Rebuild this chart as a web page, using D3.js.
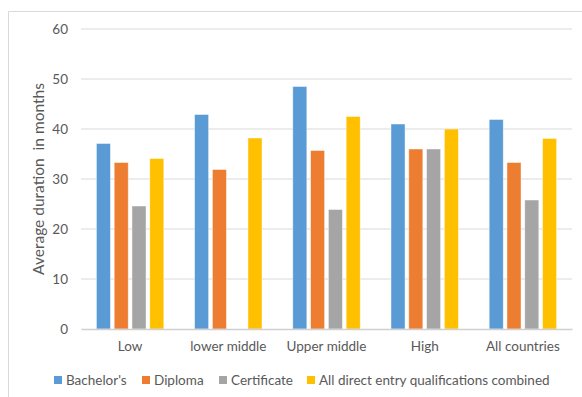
<!DOCTYPE html>
<html>
<head>
<meta charset="utf-8">
<script src="https://cdn.jsdelivr.net/npm/d3@7"></script>
<style>
  html, body { margin: 0; padding: 0; background: #fff; }
  svg text { font-family: Lato, "Open Sans", sans-serif; fill: #595959; }
</style>
</head>
<body>
<svg id="chart" width="582" height="397"></svg>
<script>
// Income groups on the x axis
const categories = ["Low", "lower middle", "Upper middle", "High", "All countries"];
// Qualification types (one bar per group)
const seriesNames = ["Bachelor's", "Diploma", "Certificate", "All direct entry qualifications combined"];
const seriesColors = ["#5B9BD5", "#ED7D31", "#A5A5A5", "#FFC000"];
// Average duration in months
const bachelors   = [37.1, 42.9, 48.5, 41.0, 41.9];
const diploma     = [33.3, 31.9, 35.7, 36.0, 33.3];
const certificate = [24.6, null, 23.9, 36.0, 25.8];
const combined    = [34.1, 38.2, 42.5, 40.0, 38.1];
const yTicks = [0, 10, 20, 30, 40, 50, 60];

const values = [bachelors, diploma, certificate, combined];

const svg = d3.select("#chart");
const m = { left: 81, right: 10, top: 29, bottom: 68 };
const W = 582, H = 397;
const FONT = "Lato, 'Open Sans', sans-serif";

// chart frame
svg.append("path")
  .attr("d", `M8.5,${H} V11.5 H${W}`)
  .attr("fill", "none").attr("stroke", "#D9D9D9").attr("stroke-width", 1);

const x0 = d3.scaleBand().domain(categories).range([m.left, W - m.right]);
const x1 = d3.scaleBand().domain(d3.range(seriesNames.length))
  .range([0, x0.bandwidth()]).paddingInner(0.21).paddingOuter(0.865);
const y = d3.scaleLinear().domain([0, 60]).range([H - m.bottom, m.top]);

// gridlines
svg.append("g").selectAll("line").data(yTicks.filter(t => t > 0)).join("line")
  .attr("x1", m.left).attr("x2", W - m.right)
  .attr("y1", d => y(d)).attr("y2", d => y(d))
  .attr("stroke", "#D9D9D9").attr("stroke-width", 1);

// y axis labels
const yAxis = d3.axisLeft(y).tickValues(yTicks).tickSize(0).tickPadding(13);
const gy = svg.append("g").attr("transform", `translate(${m.left},0)`).call(yAxis);
gy.select(".domain").remove();
gy.selectAll("text").attr("font-size", 13.5).style("fill", "#595959").style("font-family", FONT);

// bars
const groups = svg.append("g").selectAll("g").data(categories).join("g")
  .attr("transform", d => `translate(${x0(d)},0)`);
groups.selectAll("rect")
  .data((c, ci) => values.map((s, si) => ({ si, v: s[ci] })).filter(d => d.v != null))
  .join("rect")
  .attr("x", d => x1(d.si))
  .attr("width", x1.bandwidth())
  .attr("y", d => y(d.v))
  .attr("height", d => y(0) - y(d.v))
  .attr("fill", d => seriesColors[d.si])
  .attr("stroke", "#fff").attr("stroke-opacity", 0.6).attr("stroke-width", 0.75);

// x axis
const xAxis = d3.axisBottom(x0).tickSize(0).tickPadding(12);
const gx = svg.append("g").attr("transform", `translate(0,${y(0)})`).call(xAxis);
gx.select(".domain").attr("stroke", "#D0D0D0").attr("stroke-width", 1.5);
gx.selectAll("text").attr("font-size", 13.5).style("fill", "#595959").style("font-family", FONT);

// y axis title
svg.append("text")
  .attr("transform", `translate(44,${(y(0) + y(60)) / 2}) rotate(-90)`)
  .attr("text-anchor", "middle")
  .attr("font-size", 15.5)
  .style("white-space", "pre")
  .text("Average duration  in months");

// legend
const legendX = [54, 142, 219, 307];
const lg = svg.append("g").selectAll("g").data(seriesNames).join("g")
  .attr("transform", (d, i) => `translate(${legendX[i]},380)`);
lg.append("rect").attr("x", 0).attr("y", -4).attr("width", 8).attr("height", 8)
  .attr("fill", (d, i) => seriesColors[i]);
lg.append("text").attr("x", 12).attr("dy", "0.35em").attr("font-size", 13.5).text(d => d);
</script>
</body>
</html>
